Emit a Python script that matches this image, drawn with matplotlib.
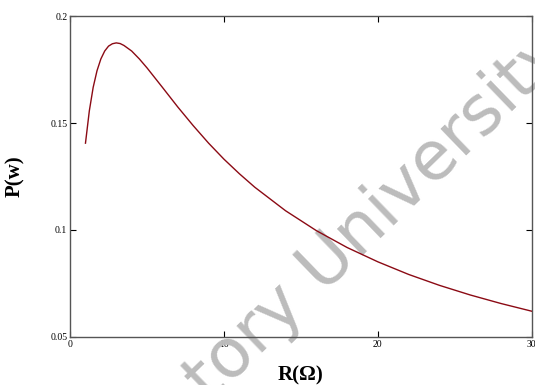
"""Power delivered to the load resistor R versus R."""

import matplotlib

matplotlib.use("Agg")
import matplotlib.pyplot as plt

# values
r_ohm = [1.0, 1.25, 1.5, 1.75, 2.0, 2.25, 2.5, 2.75, 3.0, 3.25, 3.5, 4.0,
         4.5, 5.0, 6.0, 7.0, 8.0, 9.0, 10.0, 11.0, 12.0, 14.0, 16.0, 18.0,
         20.0, 22.0, 24.0, 26.0, 28.0, 30.0]
p_watt = [0.1406, 0.1557, 0.1667, 0.1745, 0.1800, 0.1837, 0.1860, 0.1871,
          0.1875, 0.1872, 0.1863, 0.1837, 0.1800, 0.1758, 0.1667, 0.1575,
          0.1488, 0.1406, 0.1331, 0.1263, 0.1200, 0.1090, 0.0997, 0.0918,
          0.0851, 0.0792, 0.0741, 0.0696, 0.0656, 0.0620]

x_ticks = [0, 10, 20, 30]
y_ticks = [0.05, 0.1, 0.15, 0.2]
y_tick_labels = ["0.05", "0.1", "0.15", "0.2"]

figure = plt.figure(figsize=(5.35, 3.85), dpi=100)
axis = figure.add_axes([0.131, 0.125, 0.863, 0.833])

axis.plot(r_ohm, p_watt, color="#8b0a14", linewidth=1.0, zorder=3)

axis.set_xlim(0, 30)
axis.set_ylim(0.05, 0.2)
axis.set_xticks(x_ticks)
axis.set_xticklabels([str(t) for t in x_ticks])
axis.set_yticks(y_ticks)
axis.set_yticklabels(y_tick_labels)
axis.tick_params(direction="in", length=4, width=0.8, labelsize=7,
                 top=True, right=True, pad=2)
for label in axis.get_xticklabels() + axis.get_yticklabels():
    label.set_family("Liberation Serif")
for spine in axis.spines.values():
    spine.set_color("#555555")
    spine.set_linewidth(1.0)

axis.set_xlabel("R(Ω)", family="Liberation Serif", fontweight="bold",
                fontsize=15, labelpad=12)
axis.set_ylabel("P(w)", family="Liberation Serif", fontweight="bold",
                fontsize=15, labelpad=18)

# faint repository watermark across the plot, under the curve
axis.text(0.392, -0.05, "tory University", rotation=44,
          rotation_mode="anchor", ha="left", va="baseline", fontsize=49,
          color="#bcbcbc", zorder=2, family="DejaVu Sans",
          transform=figure.transFigure, clip_on=False)

figure.savefig("out.png", dpi=100)
